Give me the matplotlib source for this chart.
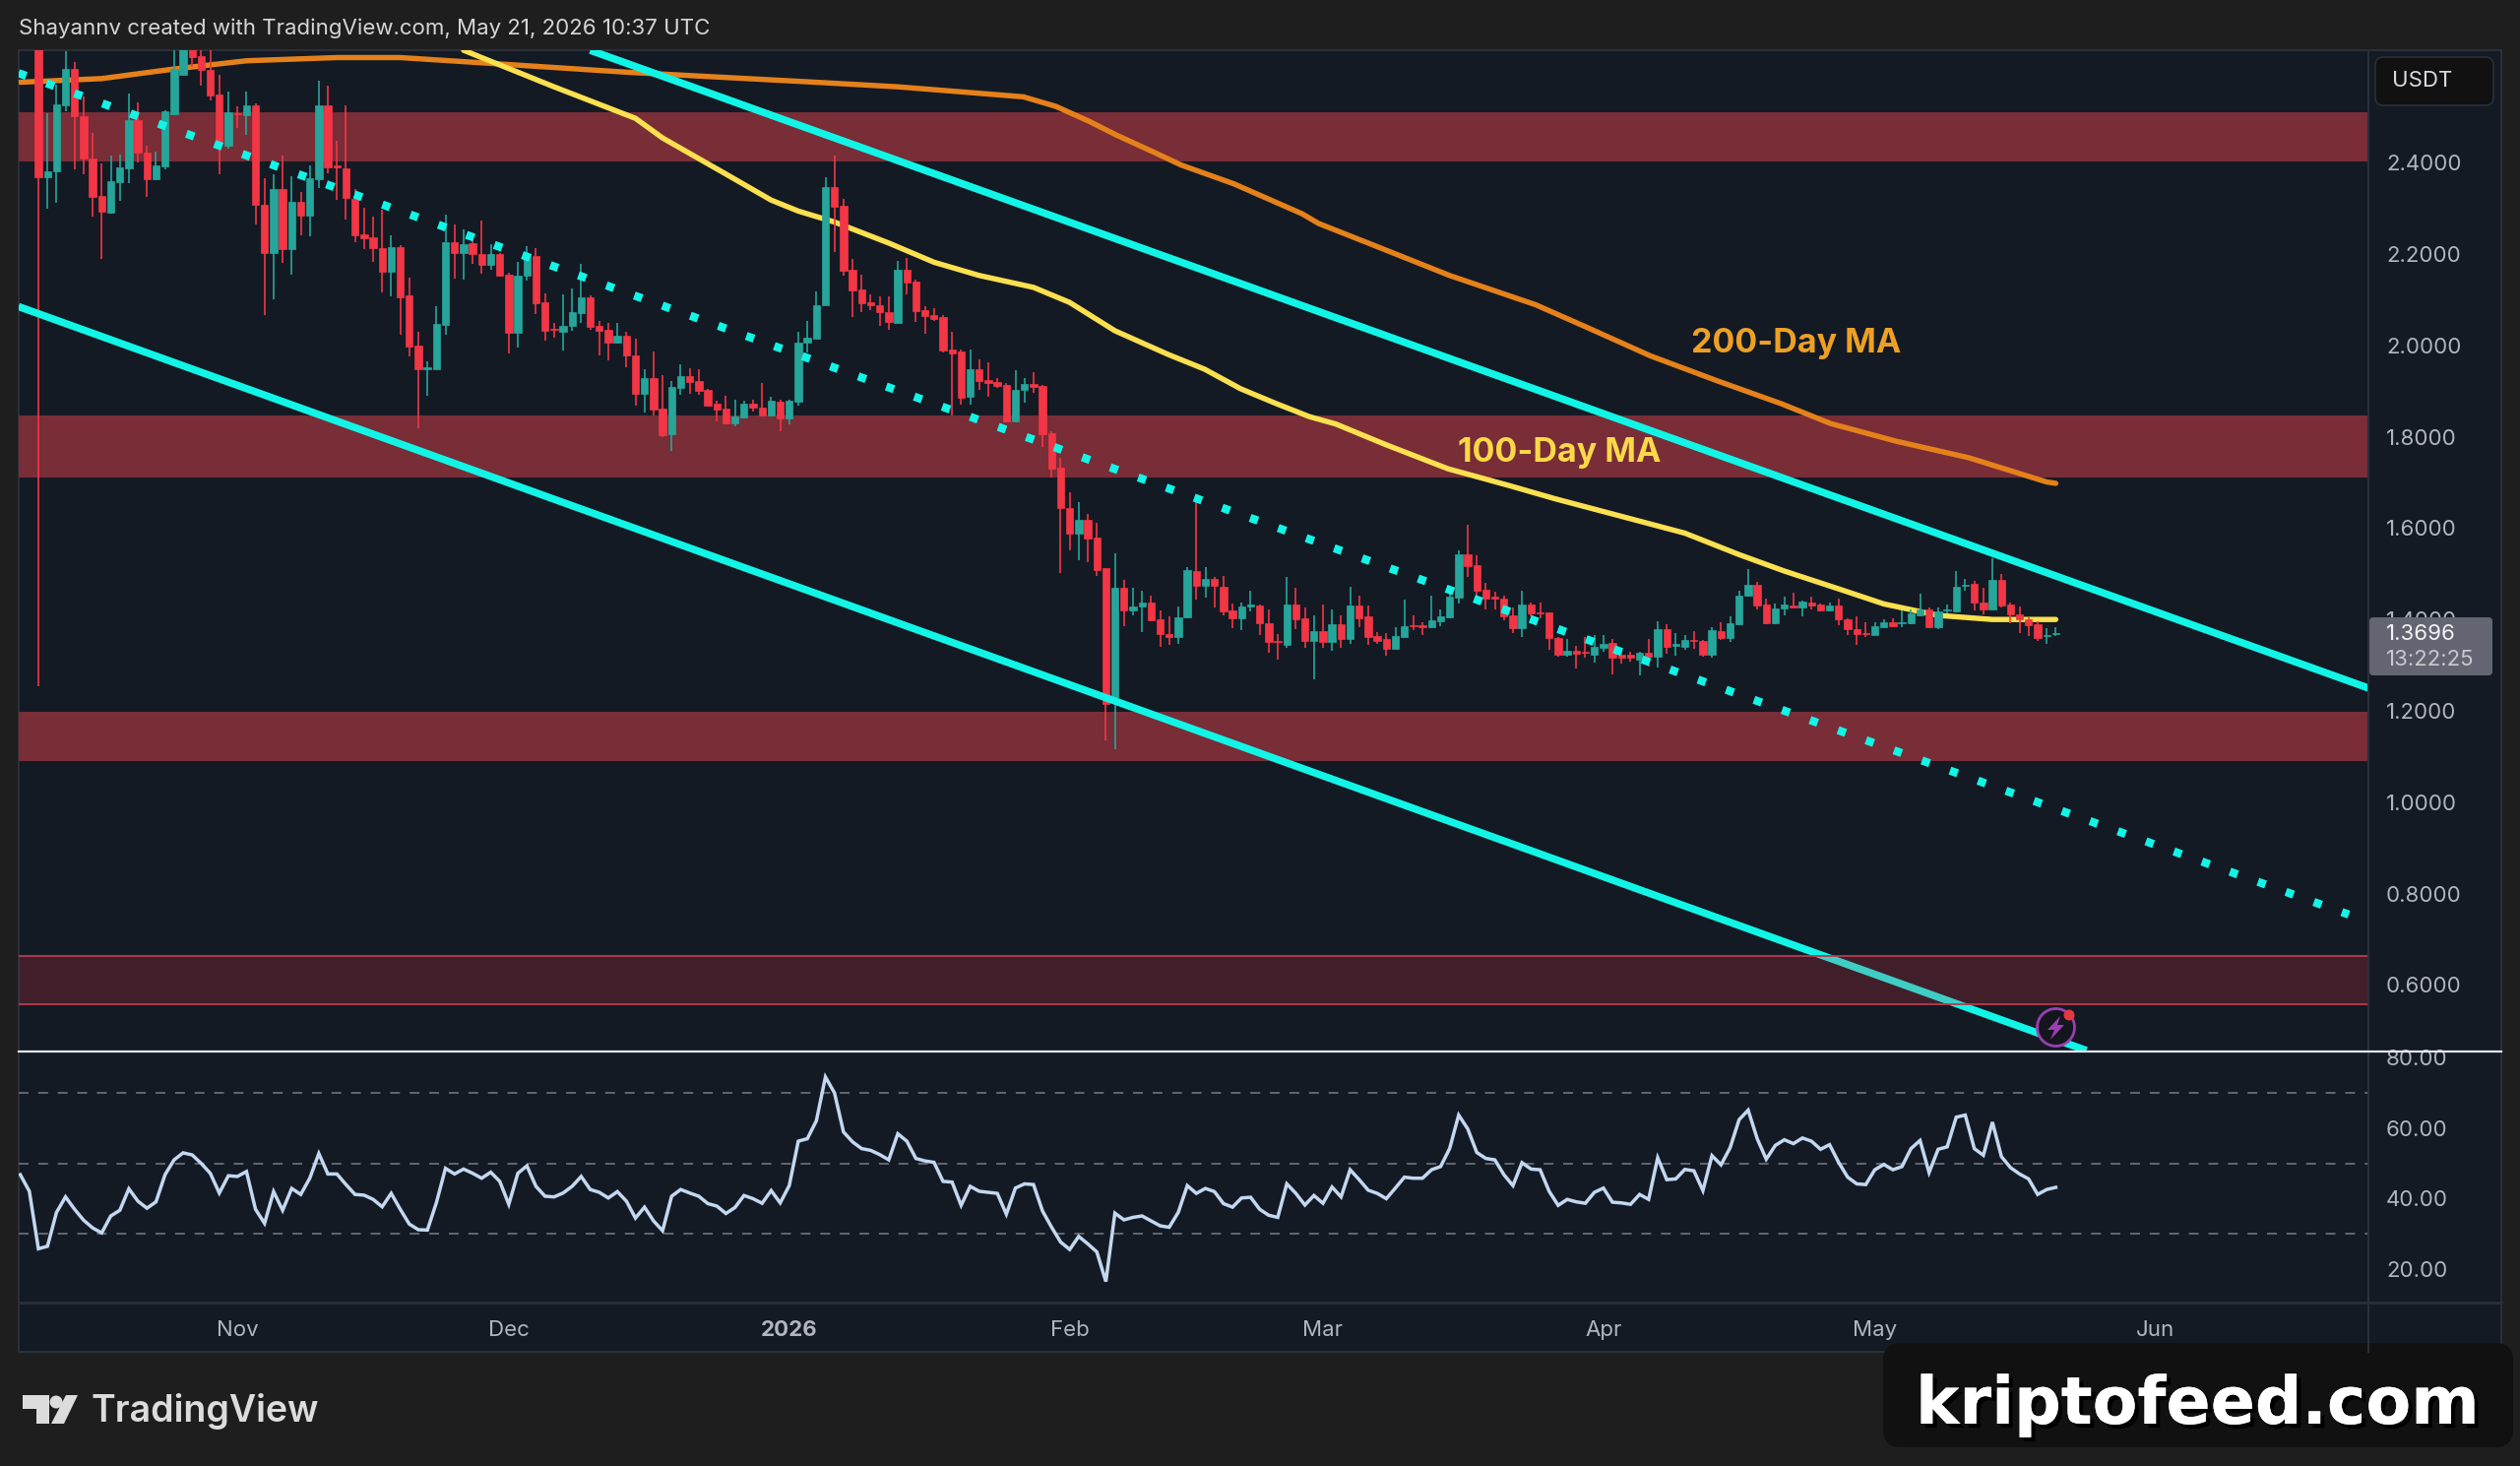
import numpy as np
import matplotlib
matplotlib.use('Agg')
import matplotlib.pyplot as plt
import matplotlib.patheffects as pe
from matplotlib.patches import FancyBboxPatch, Rectangle, Circle, Polygon

plt.rcParams['font.family'] = ['Inter', 'Roboto', 'DejaVu Sans']

W, H = 2560, 1489

# XRP/USDT daily candles, first bar is 2025-10-10
opens = [2.85, 2.368, 2.380, 2.526, 2.605, 2.501, 2.410, 2.327, 2.291, 2.358, 2.388, 2.494, 2.422, 2.363, 2.392, 2.507,
         2.592, 2.66, 2.634, 2.603, 2.550, 2.436, 2.508, 2.503, 2.526, 2.307, 2.203, 2.343, 2.210, 2.314, 2.284, 2.363,
         2.526, 2.393, 2.388, 2.320, 2.243, 2.237, 2.214, 2.161, 2.216, 2.110, 1.999, 1.948, 1.948, 2.045, 2.226, 2.202,
         2.223, 2.200, 2.177, 2.200, 2.154, 2.027, 2.153, 2.196, 2.094, 2.036, 2.029, 2.042, 2.070, 2.106, 2.042, 2.033,
         2.006, 2.022, 1.979, 1.895, 1.929, 1.862, 1.805, 1.907, 1.933, 1.922, 1.903, 1.873, 1.862, 1.830, 1.843, 1.873,
         1.863, 1.847, 1.876, 1.840, 1.876, 2.006, 2.014, 2.089, 2.347, 2.305, 2.166, 2.123, 2.095, 2.089, 2.073, 2.050,
         2.166, 2.139, 2.078, 2.067, 2.063, 1.990, 1.987, 1.887, 1.947, 1.924, 1.919, 1.913, 1.834, 1.902, 1.915, 1.911,
         1.807, 1.733, 1.645, 1.588, 1.618, 1.579, 1.513, 1.227, 1.469, 1.420, 1.429, 1.436, 1.400, 1.368, 1.361, 1.405,
         1.507, 1.473, 1.488, 1.471, 1.420, 1.403, 1.429, 1.431, 1.391, 1.352, 1.345, 1.432, 1.402, 1.352, 1.375, 1.350,
         1.390, 1.357, 1.431, 1.406, 1.364, 1.357, 1.336, 1.362, 1.388, 1.388, 1.383, 1.397, 1.404, 1.447, 1.542, 1.518,
         1.465, 1.449, 1.446, 1.409, 1.380, 1.433, 1.416, 1.415, 1.359, 1.322, 1.332, 1.329, 1.323, 1.339, 1.348, 1.322,
         1.322, 1.312, 1.327, 1.319, 1.378, 1.342, 1.341, 1.355, 1.354, 1.322, 1.375, 1.359, 1.389, 1.452, 1.475, 1.432,
         1.391, 1.424, 1.431, 1.427, 1.438, 1.432, 1.420, 1.431, 1.400, 1.378, 1.371, 1.366, 1.384, 1.395, 1.391, 1.391,
         1.409, 1.423, 1.384, 1.420, 1.418, 1.473, 1.477, 1.436, 1.423, 1.486, 1.432, 1.411, 1.400, 1.390, 1.364, 1.369]
highs = [2.90, 2.508, 2.571, 2.645, 2.620, 2.544, 2.465, 2.399, 2.415, 2.417, 2.551, 2.532, 2.436, 2.424, 2.515, 2.68,
         2.70, 2.68, 2.68, 2.68, 2.592, 2.555, 2.523, 2.555, 2.530, 2.365, 2.375, 2.415, 2.370, 2.336, 2.393, 2.580,
         2.569, 2.447, 2.526, 2.343, 2.302, 2.281, 2.296, 2.240, 2.219, 2.149, 2.029, 1.966, 2.085, 2.286, 2.264, 2.253,
         2.235, 2.273, 2.221, 2.203, 2.160, 2.182, 2.217, 2.214, 2.113, 2.049, 2.111, 2.124, 2.178, 2.110, 2.054, 2.049,
         2.049, 2.029, 2.014, 1.948, 1.986, 1.935, 1.922, 1.959, 1.950, 1.947, 1.904, 1.878, 1.889, 1.882, 1.878, 1.881,
         1.917, 1.887, 1.882, 1.881, 2.030, 2.054, 2.118, 2.369, 2.415, 2.321, 2.190, 2.155, 2.111, 2.108, 2.108, 2.184,
         2.192, 2.145, 2.086, 2.082, 2.067, 2.030, 1.990, 1.990, 1.969, 1.963, 1.928, 1.917, 1.946, 1.929, 1.941, 1.913,
         1.812, 1.753, 1.678, 1.656, 1.631, 1.611, 1.513, 1.544, 1.486, 1.469, 1.462, 1.453, 1.420, 1.407, 1.429, 1.514,
         1.662, 1.514, 1.493, 1.495, 1.435, 1.438, 1.462, 1.433, 1.423, 1.368, 1.493, 1.469, 1.427, 1.409, 1.433, 1.423,
         1.409, 1.472, 1.452, 1.431, 1.373, 1.370, 1.384, 1.443, 1.409, 1.395, 1.452, 1.423, 1.474, 1.551, 1.607, 1.540,
         1.481, 1.461, 1.452, 1.427, 1.464, 1.438, 1.438, 1.416, 1.362, 1.357, 1.342, 1.362, 1.365, 1.366, 1.357, 1.334,
         1.330, 1.330, 1.357, 1.396, 1.389, 1.370, 1.366, 1.375, 1.355, 1.383, 1.395, 1.407, 1.464, 1.510, 1.483, 1.445,
         1.434, 1.449, 1.459, 1.441, 1.449, 1.434, 1.438, 1.445, 1.402, 1.407, 1.395, 1.395, 1.400, 1.403, 1.420, 1.423,
         1.457, 1.427, 1.427, 1.433, 1.507, 1.488, 1.485, 1.469, 1.535, 1.499, 1.438, 1.428, 1.404, 1.396, 1.380, 1.384]
lows = [1.254, 2.300, 2.312, 2.512, 2.386, 2.375, 2.282, 2.189, 2.289, 2.317, 2.355, 2.401, 2.325, 2.361, 2.386, 2.503,
        2.591, 2.609, 2.568, 2.537, 2.375, 2.431, 2.476, 2.460, 2.264, 2.067, 2.101, 2.180, 2.154, 2.240, 2.239, 2.345,
        2.377, 2.318, 2.276, 2.226, 2.210, 2.182, 2.115, 2.108, 2.024, 1.975, 1.819, 1.889, 1.948, 2.024, 2.147, 2.144,
        2.178, 2.156, 2.166, 2.151, 1.982, 1.995, 2.142, 2.068, 2.011, 2.016, 1.988, 2.031, 2.049, 2.034, 1.977, 1.968,
        2.004, 1.952, 1.869, 1.852, 1.847, 1.799, 1.770, 1.891, 1.894, 1.891, 1.867, 1.834, 1.828, 1.823, 1.841, 1.856,
        1.845, 1.845, 1.812, 1.828, 1.869, 1.984, 2.014, 2.087, 2.204, 2.153, 2.063, 2.072, 2.078, 2.042, 2.035, 2.048,
        2.111, 2.051, 2.025, 2.054, 1.984, 1.847, 1.871, 1.871, 1.902, 1.887, 1.907, 1.831, 1.831, 1.875, 1.896, 1.777,
        1.711, 1.502, 1.552, 1.530, 1.526, 1.495, 1.136, 1.117, 1.385, 1.409, 1.372, 1.398, 1.341, 1.344, 1.347, 1.403,
        1.444, 1.447, 1.427, 1.410, 1.381, 1.376, 1.418, 1.365, 1.327, 1.312, 1.339, 1.378, 1.339, 1.269, 1.337, 1.332,
        1.337, 1.346, 1.384, 1.345, 1.347, 1.321, 1.334, 1.361, 1.377, 1.366, 1.381, 1.385, 1.402, 1.434, 1.493, 1.452,
        1.421, 1.421, 1.398, 1.371, 1.362, 1.406, 1.402, 1.334, 1.319, 1.319, 1.293, 1.317, 1.305, 1.330, 1.280, 1.303,
        1.307, 1.278, 1.298, 1.294, 1.325, 1.321, 1.334, 1.335, 1.319, 1.317, 1.355, 1.350, 1.388, 1.450, 1.423, 1.390,
        1.390, 1.409, 1.426, 1.407, 1.421, 1.418, 1.418, 1.388, 1.366, 1.345, 1.361, 1.365, 1.380, 1.383, 1.383, 1.390,
        1.407, 1.380, 1.378, 1.414, 1.416, 1.463, 1.420, 1.411, 1.421, 1.427, 1.391, 1.370, 1.363, 1.352, 1.347, 1.363]
closes = [2.368, 2.381, 2.528, 2.605, 2.501, 2.408, 2.325, 2.293, 2.359, 2.390, 2.494, 2.421, 2.363, 2.393, 2.512, 2.605,
          2.66, 2.632, 2.603, 2.548, 2.444, 2.510, 2.505, 2.526, 2.307, 2.203, 2.343, 2.210, 2.314, 2.284, 2.365, 2.526,
          2.390, 2.390, 2.322, 2.241, 2.235, 2.214, 2.161, 2.216, 2.106, 1.997, 1.948, 1.952, 2.047, 2.226, 2.202, 2.222,
          2.200, 2.177, 2.200, 2.153, 2.027, 2.153, 2.200, 2.093, 2.032, 2.033, 2.043, 2.072, 2.106, 2.040, 2.031, 2.006,
          2.022, 1.977, 1.895, 1.929, 1.860, 1.803, 1.909, 1.933, 1.920, 1.900, 1.869, 1.860, 1.830, 1.844, 1.873, 1.863,
          1.847, 1.878, 1.840, 1.878, 2.006, 2.017, 2.089, 2.347, 2.303, 2.164, 2.120, 2.092, 2.087, 2.072, 2.051, 2.166,
          2.138, 2.076, 2.065, 2.058, 1.988, 1.982, 1.885, 1.947, 1.922, 1.917, 1.911, 1.834, 1.902, 1.915, 1.909, 1.805,
          1.731, 1.645, 1.588, 1.618, 1.577, 1.508, 1.215, 1.469, 1.420, 1.429, 1.436, 1.398, 1.368, 1.361, 1.405, 1.508,
          1.473, 1.488, 1.473, 1.418, 1.403, 1.429, 1.433, 1.391, 1.350, 1.350, 1.432, 1.400, 1.352, 1.375, 1.350, 1.390,
          1.357, 1.431, 1.402, 1.362, 1.352, 1.336, 1.364, 1.386, 1.385, 1.384, 1.398, 1.407, 1.449, 1.542, 1.517, 1.463,
          1.445, 1.446, 1.406, 1.380, 1.432, 1.413, 1.413, 1.359, 1.322, 1.332, 1.325, 1.327, 1.341, 1.347, 1.317, 1.317,
          1.317, 1.327, 1.319, 1.378, 1.341, 1.347, 1.355, 1.354, 1.322, 1.377, 1.359, 1.391, 1.452, 1.475, 1.431, 1.391,
          1.425, 1.432, 1.427, 1.439, 1.431, 1.420, 1.431, 1.400, 1.378, 1.368, 1.368, 1.385, 1.395, 1.385, 1.393, 1.413,
          1.423, 1.383, 1.418, 1.423, 1.472, 1.475, 1.436, 1.423, 1.486, 1.431, 1.411, 1.400, 1.388, 1.359, 1.367, 1.3696]

# moving averages, bar position / value
ma200_bars = [-2, 7, 15, 23, 33, 40, 51, 65, 85, 95, 102, 108.9, 112.5, 116.2, 119.1, 123.4, 126.3, 132.1, 139.7, 141.5,
              147, 156, 165.5, 171, 178.2, 185.5, 192.7, 198.1, 205.4, 213.4, 222, 223]
ma200_vals = [2.576, 2.584, 2.605, 2.623, 2.630, 2.630, 2.616, 2.598, 2.577, 2.566, 2.555, 2.544, 2.523, 2.490, 2.461,
              2.422, 2.395, 2.354, 2.288, 2.267, 2.224, 2.153, 2.089, 2.041, 1.977, 1.923, 1.872, 1.829, 1.790, 1.754,
              1.701, 1.698]
ma100_bars = [47, 57, 66, 69, 76, 81, 84, 88, 94, 99, 104, 110, 114, 119, 124.9, 128.9, 132.9, 136.9, 140.5, 143.4,
              148.9, 155.8, 162.6, 167.7, 178, 182, 188, 193, 199, 204, 210, 216, 223]
ma100_vals = [2.646, 2.566, 2.497, 2.454, 2.375, 2.318, 2.294, 2.270, 2.224, 2.182, 2.153, 2.127, 2.094, 2.032, 1.980,
              1.948, 1.905, 1.872, 1.844, 1.828, 1.783, 1.730, 1.693, 1.664, 1.610, 1.589, 1.542, 1.506, 1.467, 1.434,
              1.409, 1.400, 1.400]

# RSI(14), starts two bars before the first visible candle
rsi_values = [46.8, 42.1, 25.8, 26.5, 36.1, 40.5, 37.0, 33.9, 31.7, 30.3, 35.1, 36.7, 42.8, 39.3, 37.3, 39.1, 46.8, 51.0,
              53.0, 52.4, 50.0, 47.2, 41.6, 46.5, 46.3, 47.7, 37.0, 33.0, 42.0, 36.7, 42.9, 41.2, 45.8, 52.8, 47.0, 47.0,
              44.0, 41.2, 41.0, 39.8, 37.7, 41.5, 37.0, 32.8, 31.2, 31.1, 38.9, 48.6, 47.0, 48.4, 47.2, 45.8, 47.5, 44.9,
              38.4, 47.2, 49.3, 43.5, 40.7, 40.5, 41.6, 43.5, 46.3, 42.6, 41.8, 40.2, 42.0, 39.3, 34.5, 37.6, 33.7, 30.9,
              40.7, 42.6, 41.6, 40.7, 38.6, 37.9, 35.8, 37.5, 40.9, 40.0, 38.7, 42.3, 38.8, 43.7, 56.3, 57.0, 62.1, 74.5,
              70.0, 58.9, 56.1, 54.2, 53.7, 52.5, 51.0, 58.4, 56.3, 51.4, 50.7, 50.3, 44.9, 44.7, 38.1, 43.5, 42.1, 41.8,
              41.5, 35.6, 43.0, 44.2, 44.0, 36.5, 31.9, 27.7, 25.6, 29.3, 27.2, 24.9, 16.5, 35.9, 34.0, 34.7, 35.1, 33.7,
              32.3, 31.9, 36.1, 43.7, 41.5, 42.9, 42.0, 38.6, 37.6, 40.2, 40.4, 37.0, 35.3, 34.7, 44.2, 41.5, 38.2, 40.9,
              38.7, 43.3, 40.5, 48.2, 45.4, 42.4, 41.5, 40.0, 43.0, 46.1, 45.8, 45.8, 48.2, 49.1, 54.2, 63.7, 59.8, 53.1,
              51.4, 51.0, 46.8, 43.7, 50.2, 48.4, 48.2, 42.1, 38.1, 39.8, 39.1, 38.7, 41.8, 43.0, 39.0, 38.8, 38.4, 41.2,
              39.8, 51.6, 45.4, 45.6, 48.3, 47.9, 42.3, 52.2, 49.6, 54.4, 62.4, 65.1, 57.0, 51.2, 55.1, 56.7, 55.6, 57.2,
              56.3, 54.0, 55.3, 50.3, 46.1, 44.2, 44.0, 48.2, 49.7, 48.2, 49.1, 54.2, 56.5, 47.4, 54.0, 54.7, 63.1, 63.7,
              54.2, 52.3, 61.7, 51.9, 48.8, 47.0, 45.6, 41.2, 42.6, 43.2]

# channel trendlines, (bar, price) at both ends
upper_bars, upper_prices = [61, 257.6], [2.646, 1.2496]
lower_bars, lower_prices = [-2.2, 226.4], [2.085, 0.4565]
mid_bars, mid_prices = [-2.2, 255.4], [2.596, 0.754]

# horizontal supply/demand zones (low, high)
zones = [(2.403, 2.510), (1.711, 1.847), (1.090, 1.198)]
low_zone = (0.558, 0.664)

price_ticks = [0.6, 0.8, 1.0, 1.2, 1.4, 1.6, 1.8, 2.0, 2.2, 2.4]
rsi_ticks = [20, 40, 60, 80]
rsi_levels = [30, 50, 70]
month_bars = [22, 52, 83, 114, 142, 173, 203, 234]
month_labels = ['Nov', 'Dec', '2026', 'Feb', 'Mar', 'Apr', 'May', 'Jun']

last_price = '1.3696'
countdown = '13:22:25'

# colours
FIG_BG = '#1e1e1e'
PANE_BG = '#141a24'
BORDER = '#2a2f3a'
TEXT = '#b2b5be'
UP = '#26a69a'
DOWN = '#f23645'
CYAN = '#12f5e6'
ZONE = '#782d37'


def pane(left, top, right, bottom, **kw):
    # axes rectangle given in figure pixels, y measured from the top
    return fig.add_axes([left / W, 1 - bottom / H, (right - left) / W, (bottom - top) / H], **kw)


fig = plt.figure(figsize=(W / 100, H / 100), dpi=100, facecolor=FIG_BG)

# x range: bar 0 sits at px 39, one bar is 9.19 px
x_lim = ((19 - 39) / 9.19, (2406 - 39) / 9.19)

# ---- frame behind the panes
back = pane(0, 0, W, H, zorder=0)
back.set_xlim(0, W)
back.set_ylim(H, 0)
back.axis('off')
back.add_patch(Rectangle((19, 51), 2522, 1322, fc=PANE_BG, ec=BORDER, lw=1.5))

# ---- price pane
ax = pane(19, 51, 2406, 1068, zorder=1)
ax.patch.set_alpha(0)
ax.set_xlim(*x_lim)
ax.set_ylim(1.2 - 346 / 464, 1.2 + 671 / 464)

for lo, hi in zones:
    ax.axhspan(lo, hi, color=ZONE, lw=0, zorder=1)

ax.plot(ma200_bars, ma200_vals, color='#e5811a', lw=3.9, zorder=3, solid_capstyle='round')
ax.plot(ma100_bars, ma100_vals, color='#fbe04f', lw=3.9, zorder=3, solid_capstyle='round')

bars = np.arange(len(closes))
o, h, l, c = map(np.array, (opens, highs, lows, closes))
colors = np.where(c >= o, UP, DOWN)
ax.vlines(bars, l, h, colors=colors, lw=1.2, zorder=4)
ax.bar(bars, np.abs(c - o), bottom=np.minimum(o, c), width=0.8, color=colors, edgecolor=colors, lw=0.5, zorder=4)

ax.plot(upper_bars, upper_prices, color=CYAN, lw=5.4, zorder=5, solid_capstyle='butt')
ax.plot(lower_bars, lower_prices, color=CYAN, lw=5.4, zorder=5, solid_capstyle='butt')
ax.plot(mid_bars, mid_prices, color=CYAN, lw=6.0, ls=(0, (1, 2.628)), dash_capstyle='butt', zorder=5)

# the lowest zone is translucent and sits over the channel line
ax.axhspan(*low_zone, color=DOWN, alpha=0.2, lw=0, zorder=6)
for edge in low_zone:
    ax.axhline(edge, color='#b93a4e', lw=1.3, zorder=6)

ax.set_xticks([])
ax.yaxis.tick_right()
ax.set_yticks(price_ticks, [f'{v:.4f}' for v in price_ticks])
ax.tick_params(axis='y', length=0, pad=13, labelsize=16, labelcolor=TEXT)
for s in ax.spines.values():
    s.set_visible(False)

# ---- RSI pane
ax2 = pane(19, 1068, 2406, 1323, zorder=1)
ax2.patch.set_alpha(0)
ax2.set_xlim(*x_lim)
ax2.set_ylim(30 - 69.7 / 3.583, 70 + 42 / 3.583)
for lvl in rsi_levels:
    ax2.axhline(lvl, color='#787b86', lw=1.1, ls=(0, (6.5, 6.5)))
ax2.plot(np.arange(-2, len(rsi_values) - 2), rsi_values, color='#c3d8f0', lw=2.5, solid_joinstyle='miter')
ax2.yaxis.tick_right()
ax2.set_yticks(rsi_ticks, [f'{v:.2f}' for v in rsi_ticks])
ax2.set_xticks(month_bars, month_labels)
ax2.tick_params(axis='y', length=0, pad=13, labelsize=16, labelcolor=TEXT)
ax2.tick_params(axis='x', length=0, pad=13, labelsize=16, labelcolor=TEXT)
ax2.get_xticklabels()[2].set_fontweight('bold')
for s in ax2.spines.values():
    s.set_visible(False)

# ---- overlay in figure pixels: separators, header, tags, logos
top = pane(0, 0, W, H, zorder=5)
top.set_xlim(0, W)
top.set_ylim(H, 0)
top.axis('off')
top.patch.set_alpha(0)

top.plot([2406, 2406], [51, 1373], color=BORDER, lw=1.5)
top.plot([19, 2541], [1323, 1323], color=BORDER, lw=2)
top.plot([19, 2541], [1068, 1068], color='#e6e8ee', lw=1.6)

top.text(19, 29, 'Shayannv created with TradingView.com, May 21, 2026 10:37 UTC',
         color='#d6d6d6', fontsize=16, va='center', ha='left')

top.add_patch(FancyBboxPatch((2421, 66), 104, 33, boxstyle='round,pad=8,rounding_size=8', fc='#111111', ec=BORDER, lw=1.2))
top.text(2430, 82, 'USDT', color='#d8dae0', fontsize=16, va='center')

# last price tag
top.add_patch(FancyBboxPatch((2411, 631), 117, 51, boxstyle='round,pad=4,rounding_size=4', fc='#636672', ec='none'))
top.text(2424, 644, last_price, color='#f2f3f5', fontsize=16, va='center')
top.text(2424, 670, countdown, color='#c8cad0', fontsize=16, va='center')

top.text(1718, 349, '200-Day MA', color='#eda024', fontsize=24.5, fontweight='bold', va='center')
top.text(1481, 460, '100-Day MA', color='#fad848', fontsize=24.5, fontweight='bold', va='center')

# alert badge at the end of the series
top.add_patch(Circle((2088.5, 1043.5), 19, fc='#14161d', ec='#9a3fb4', lw=2))
top.add_patch(Polygon([(2093, 1032), (2080, 1046), (2087, 1046), (2083, 1056), (2097, 1041), (2090, 1041)],
                      fc='#9a3fb4', ec='none'))
top.add_patch(Circle((2102, 1031), 5.5, fc='#e5393f', ec='none'))

# TradingView logo
LOGO = '#dcdcdc'
top.add_patch(Polygon([(23, 1417), (50, 1417), (50, 1446), (37, 1446), (37, 1431), (23, 1431)], fc=LOGO, ec='none'))
top.add_patch(Circle((57, 1424), 6.5, fc=LOGO, ec='none'))
top.add_patch(Polygon([(67, 1417), (79, 1417), (65, 1446), (52, 1446)], fc=LOGO, ec='none'))
top.text(93, 1433, 'TradingView', color=LOGO, fontsize=27, fontweight='semibold', va='center')

# site stamp in the corner
top.add_patch(FancyBboxPatch((1931, 1382), 604, 70, boxstyle='round,pad=18,rounding_size=18', fc='#111111', ec='none'))
top.text(1946, 1427, 'kriptofeed.com', color='white', fontsize=48, fontweight='bold', family='DejaVu Sans', va='center',
         path_effects=[pe.withSimplePatchShadow(offset=(3, -3), shadow_rgbFace='black', alpha=1), pe.Normal()])

fig.savefig('out.png', dpi=100, facecolor=FIG_BG)
